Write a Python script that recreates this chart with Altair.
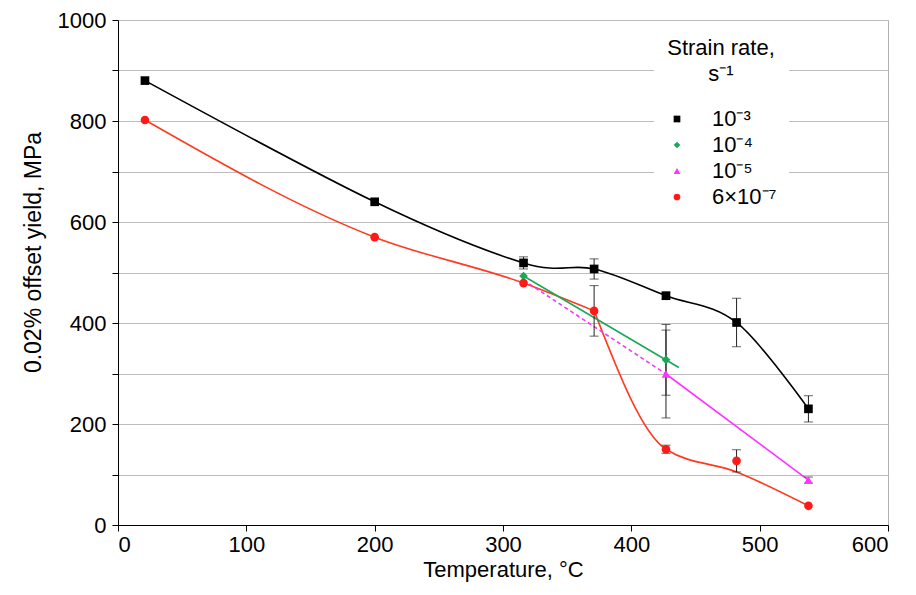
import altair as alt
import pandas as pd

FONT = "Liberation Sans"

# Series labels
series = ["10⁻³", "10⁻⁴", "10⁻⁵", "6×10⁻⁷"]
colors = ["#000000", "#1aa85a", "#ff33ff", "#ff1a1a"]
shapes = ["square", "diamond", "triangle-up", "circle"]

# Markers (temperature °C, yield MPa)
m3_T = [21, 200, 316, 371, 427, 482, 538]
m3_Y = [880, 640, 519, 507, 454, 401, 230]
m4_T = [316, 427]
m4_Y = [493, 327]
m5_T = [427, 538]
m5_Y = [299, 89]
m7_T = [21, 200, 316, 371, 427, 482, 538]
m7_Y = [802, 570, 479, 424, 150, 127, 38]

# Lines
l3_T = [21, 200, 316, 371, 427, 482, 538]
l3_Y = [880, 640, 519, 507, 454, 401, 230]
l4_T = [316, 437]
l4_Y = [493, 312]
l5d_T = [316, 427]
l5d_Y = [485, 299]
l5_T = [427, 538]
l5_Y = [299, 89]
l7a_T = [21, 200, 316, 371]
l7a_Y = [802, 570, 479, 424]
l7b_T = [371, 427, 482, 538]
l7b_Y = [424, 150, 105, 38]

# Error bars (temperature, centre, +/- half width)
e_T = [316, 371, 427, 482, 538, 371, 427, 482, 427, 427, 538]
e_C = [519, 507, 454, 401, 230, 424, 150, 127, 327, 299, 89]
e_H = [12, 20, 7, 48, 26, 50, 8, 22, 70, 87, 6]

pts = pd.DataFrame(
    [{"T": t, "Y": y, "s": series[0]} for t, y in zip(m3_T, m3_Y)]
    + [{"T": t, "Y": y, "s": series[1]} for t, y in zip(m4_T, m4_Y)]
    + [{"T": t, "Y": y, "s": series[2]} for t, y in zip(m5_T, m5_Y)]
    + [{"T": t, "Y": y, "s": series[3]} for t, y in zip(m7_T, m7_Y)]
)
err = pd.DataFrame({"T": e_T, "lo": [c - h for c, h in zip(e_C, e_H)],
                    "hi": [c + h for c, h in zip(e_C, e_H)]})

xs = alt.Scale(domain=[0, 600], nice=False, zero=True)
ys = alt.Scale(domain=[0, 1000], nice=False)

FS = 22

xenc = alt.X("T:Q", scale=xs, axis=alt.Axis(
    title="Temperature, °C", values=[0, 100, 200, 300, 400, 500, 600],
    grid=False, domainColor="#000", tickColor="#000", tickSize=6,
    labelFont=FONT, labelFontSize=FS, labelColor="#000", labelPadding=3,
    titleFont=FONT, titleFontSize=FS, titleFontWeight="normal", titleColor="#000",
    titlePadding=4))
yenc = alt.Y("Y:Q", scale=ys, axis=alt.Axis(
    title="0.02% offset yield, MPa", values=list(range(0, 1001, 100)),
    labelExpr="datum.value % 200 == 0 ? format(datum.value, 'd') : ''",
    grid=True, gridColor="#bdbdbd", gridWidth=1.2,
    domainColor="#000", tickColor="#000", tickSize=6,
    labelFont=FONT, labelFontSize=FS, labelColor="#000", labelPadding=6,
    titleFont=FONT, titleFontSize=23, titleFontWeight="normal", titleColor="#000",
    titlePadding=12, titleY=232))


def line(T, Y, color, interp="cardinal", dash=None):
    df = pd.DataFrame({"T": T, "Y": Y})
    kw = dict(color=color, strokeWidth=1.6, interpolate=interp)
    if dash:
        kw["strokeDash"] = dash
    return alt.Chart(df).mark_line(**kw).encode(x=alt.X("T:Q", scale=xs), y=alt.Y("Y:Q", scale=ys))


base_axes = alt.Chart(pts).mark_point(opacity=0).encode(x=xenc, y=yenc)

lines = [
    line(l3_T, l3_Y, "#000000"),
    line(l7a_T, l7a_Y, "#ff3a1f", interp="monotone"),
    line(l7b_T, l7b_Y, "#ff3a1f", interp="monotone"),
    line(l4_T, l4_Y, "#1aa85a", interp="linear"),
    line(l5d_T, l5d_Y, "#ff33ff", interp="linear", dash=[4, 3]),
    line(l5_T, l5_Y, "#ff33ff", interp="linear"),
]

rules = alt.Chart(err).mark_rule(color="#222", strokeWidth=1).encode(
    x=alt.X("T:Q", scale=xs), y=alt.Y("lo:Q", scale=ys), y2="hi:Q")
cap_lo = alt.Chart(err).mark_tick(color="#222", orient="horizontal", size=9, thickness=1).encode(
    x=alt.X("T:Q", scale=xs), y=alt.Y("lo:Q", scale=ys))
cap_hi = alt.Chart(err).mark_tick(color="#222", orient="horizontal", size=9, thickness=1).encode(
    x=alt.X("T:Q", scale=xs), y=alt.Y("hi:Q", scale=ys))

points = alt.Chart(pts).mark_point(filled=True, size=75, opacity=1).encode(
    x=alt.X("T:Q", scale=xs), y=alt.Y("Y:Q", scale=ys),
    color=alt.Color("s:N", scale=alt.Scale(domain=series, range=colors),
                    legend=alt.Legend(
                        title=["Strain rate,", "s⁻¹"], orient="none",
                        legendX=536, legendY=6,
                        titleFont=FONT, titleFontSize=FS, titleFontWeight="normal",
                        titleColor="#000", titleAlign="center", titleAnchor="middle",
                        titlePadding=22, titleLineHeight=26,
                        labelFont=FONT, labelFontSize=FS, labelColor="#000",
                        labelOffset=24, symbolSize=45, rowPadding=4,
                        fillColor="white", padding=12)),
    shape=alt.Shape("s:N", scale=alt.Scale(domain=series, range=shapes), legend=None),
)

chart = alt.layer(base_axes, *lines, rules, cap_lo, cap_hi, points).properties(
    width=770, height=505,
    autosize=alt.AutoSizeParams(type="none"),
    padding={"left": 110, "top": 12, "right": 20, "bottom": 62},
).configure_view(stroke="#b0b0b0", strokeWidth=1)

chart.save("out.html", embed_options={"renderer": "svg", "actions": False})
